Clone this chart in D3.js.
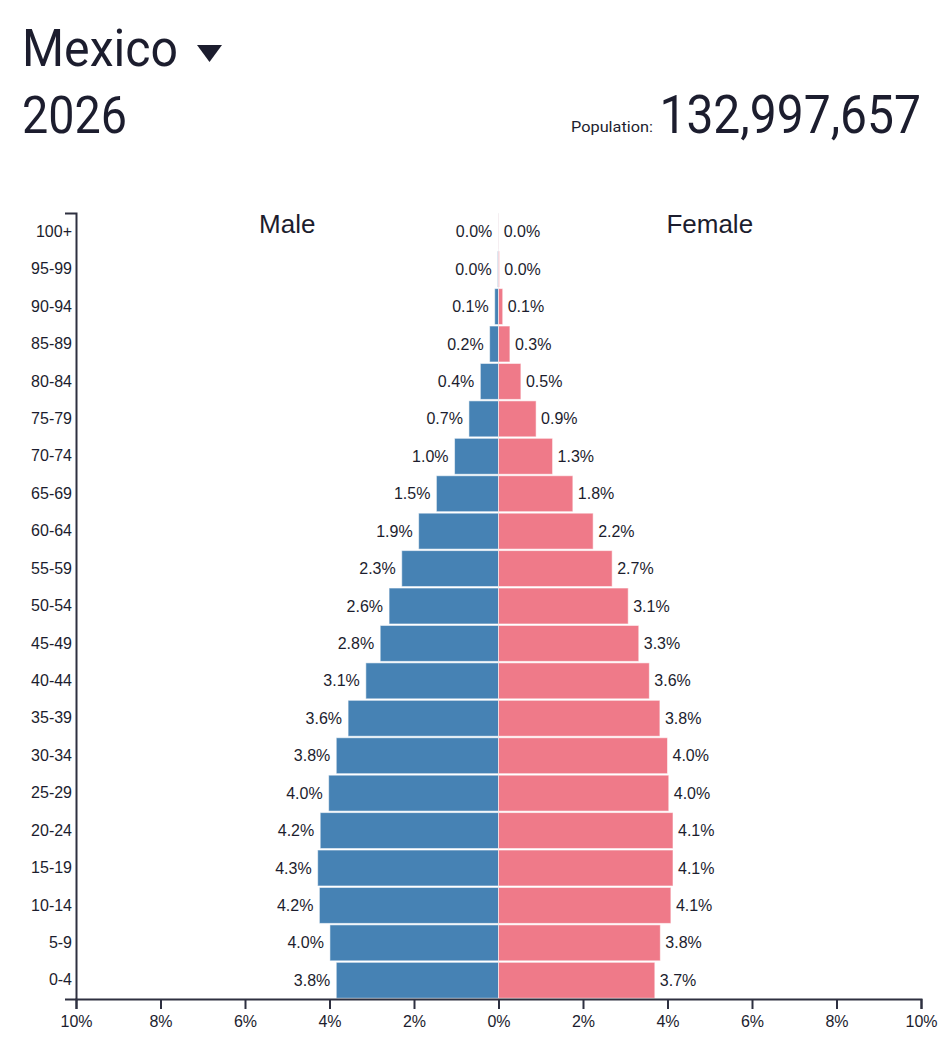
<!DOCTYPE html>
<html>
<head>
<meta charset="utf-8">
<script src="https://cdn.jsdelivr.net/npm/d3@7"></script>
<style>
  body { margin: 0; background: #fff; }
  svg { display: block; }
</style>
</head>
<body>
<div id="chart"></div>
<script>
// age groups, bottom to top
const ageGroups = ["0-4", "5-9", "10-14", "15-19", "20-24", "25-29", "30-34", "35-39", "40-44", "45-49",
    "50-54", "55-59", "60-64", "65-69", "70-74", "75-79", "80-84", "85-89", "90-94", "95-99", "100+"]

// share of total population, %
const malePct = [3.84, 3.99, 4.24, 4.28, 4.22, 4.02, 3.84, 3.56, 3.14, 2.80,
    2.59, 2.29, 1.89, 1.47, 1.04, 0.70, 0.43, 0.21, 0.09, 0.02, 0.004]
const femalePct = [3.70, 3.83, 4.08, 4.13, 4.13, 4.03, 4.00, 3.82, 3.57, 3.32,
    3.07, 2.69, 2.24, 1.76, 1.28, 0.89, 0.53, 0.27, 0.10, 0.02, 0.004]

const xTicks = [-10, -8, -6, -4, -2, 0, 2, 4, 6, 8, 10]

const country = "Mexico"
const year = "2026"
const population = 132997657

const width = 946
const height = 1057
const plotLeft = 76, plotRight = 921, plotTop = 213, plotBottom = 999
const ink = "#1c1d2e"
const labelFont = "Liberation Sans, Arial, sans-serif"

const svg = d3.select("#chart")
    .append("svg")
    .attr("width", width)
    .attr("height", height)

// header
svg.append("text")
    .attr("x", 22).attr("y", 66)
    .attr("font-family", "Roboto").attr("font-size", 52)
    .attr("textLength", 156).attr("lengthAdjust", "spacingAndGlyphs")
    .attr("fill", ink)
    .text(country)

svg.append("path")
    .attr("d", "M197,45 L222,45 L209.5,62 Z")
    .attr("fill", ink)

svg.append("text")
    .attr("x", 22).attr("y", 133)
    .attr("font-family", "Roboto").attr("font-size", 52)
    .attr("textLength", 105).attr("lengthAdjust", "spacingAndGlyphs")
    .attr("fill", ink)
    .text(year)

svg.append("text")
    .attr("x", 571).attr("y", 132)
    .attr("font-family", "Roboto").attr("font-size", 14)
    .attr("textLength", 82).attr("lengthAdjust", "spacingAndGlyphs")
    .attr("fill", ink)
    .text("Population:")

// narrow font look: smaller size, stretched vertically
svg.append("text")
    .attr("transform", "translate(921,133) scale(1,1.1)")
    .attr("text-anchor", "end")
    .attr("font-family", "Roboto").attr("font-size", 48)
    .attr("fill", ink)
    .text(d3.format(",")(population))

// scales
const x = d3.scaleLinear()
    .domain([-10, 10])
    .range([plotLeft, plotRight])

const y = d3.scaleBand()
    .domain(ageGroups.slice().reverse())
    .range([plotTop, plotBottom])
    .paddingInner(0.04)
    .paddingOuter(0.02)

const data = ageGroups.map((age, i) => ({ age: age, male: malePct[i], female: femalePct[i] }))

// centre line
svg.append("line")
    .attr("x1", x(0)).attr("x2", x(0))
    .attr("y1", plotTop).attr("y2", plotBottom)
    .attr("stroke", "#e8e8ec")

const bars = svg.append("g")

bars.selectAll("rect.male")
    .data(data)
    .enter()
    .append("rect")
    .attr("class", "male")
    .attr("x", d => x(-d.male))
    .attr("y", d => y(d.age))
    .attr("width", d => x(0) - x(-d.male))
    .attr("height", y.bandwidth())
    .attr("fill", "#4682b4")
    .attr("stroke", "#fff")
    .attr("stroke-opacity", 0.55)

bars.selectAll("rect.female")
    .data(data)
    .enter()
    .append("rect")
    .attr("class", "female")
    .attr("x", x(0))
    .attr("y", d => y(d.age))
    .attr("width", d => x(d.female) - x(0))
    .attr("height", y.bandwidth())
    .attr("fill", "#ef7a89")
    .attr("stroke", "#fff")
    .attr("stroke-opacity", 0.55)

const pct = d => d.toFixed(1) + "%"

const labels = svg.append("g")
    .attr("font-family", labelFont)
    .attr("font-size", 16)
    .attr("fill", ink)

labels.selectAll("text.male")
    .data(data)
    .enter()
    .append("text")
    .attr("x", d => x(-d.male) - 6)
    .attr("y", d => y(d.age) + y.bandwidth() / 2)
    .attr("dy", "0.35em")
    .attr("text-anchor", "end")
    .text(d => pct(d.male))

labels.selectAll("text.female")
    .data(data)
    .enter()
    .append("text")
    .attr("x", d => x(d.female) + 5)
    .attr("y", d => y(d.age) + y.bandwidth() / 2)
    .attr("dy", "0.35em")
    .text(d => pct(d.female))

// side titles
svg.append("text")
    .attr("x", (x(-10) + x(0)) / 2).attr("y", 233)
    .attr("text-anchor", "middle")
    .attr("font-family", labelFont).attr("font-size", 26)
    .attr("fill", ink)
    .text("Male")

svg.append("text")
    .attr("x", (x(0) + x(10)) / 2).attr("y", 233)
    .attr("text-anchor", "middle")
    .attr("font-family", labelFont).attr("font-size", 26)
    .attr("fill", ink)
    .text("Female")

// axes
const yAxis = svg.append("g")
    .attr("transform", `translate(${plotLeft},0)`)
    .call(d3.axisLeft(y).tickSizeInner(0).tickSizeOuter(11).tickPadding(4))

const xAxis = svg.append("g")
    .attr("transform", `translate(0,${plotBottom})`)
    .call(d3.axisBottom(x).tickValues(xTicks).tickSize(10).tickPadding(7)
        .tickFormat(d => Math.abs(d) + "%"))

;[yAxis, xAxis].forEach(g => {
    g.selectAll("text")
        .attr("font-family", labelFont)
        .attr("font-size", 16)
        .attr("fill", ink)
    g.selectAll("path, line").attr("stroke", "#2e3040").attr("stroke-width", 2)
})
</script>
</body>
</html>
